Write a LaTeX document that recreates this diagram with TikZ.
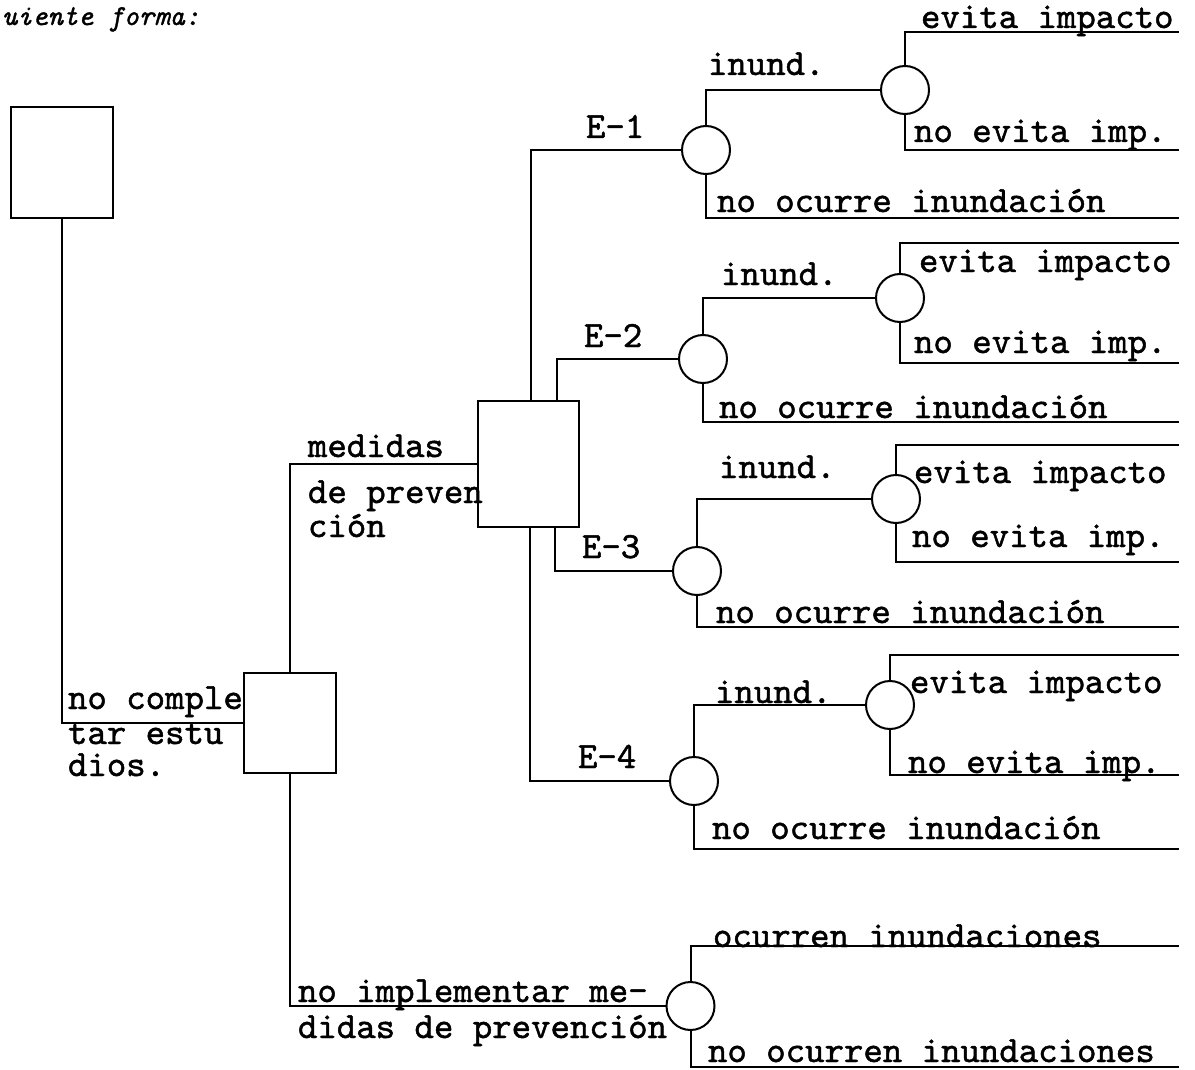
\documentclass[tikz,border=0pt]{standalone}
\usepackage{fontspec}
\newfontfamily\twfont{lmmono10-regular}[Extension=.otf, FakeBold=1.3]
\newfontfamily\twitfont{lmmono10-italic}[Extension=.otf, FakeBold=1.3]
\begin{document}
\begin{tikzpicture}[x=1pt,y=-1pt, line width=2pt,
  box/.style={draw, rectangle, inner sep=0pt, outer sep=0pt},
  chance/.style={draw, circle, minimum size=48pt, inner sep=0pt, outer sep=0pt},
  lbl/.style={anchor=base west, inner sep=0pt, outer sep=0pt, font=\fontsize{37}{40}\selectfont\twfont},
  head/.style={anchor=base west, inner sep=0pt, outer sep=0pt, font=\fontsize{29}{30}\selectfont\twitfont},
]
\useasboundingbox (0,0) rectangle (1195,1070);

\node[head] (hd) at (2,25) {uiente forma:};

% decision boxes
\node[box, minimum width=102pt, minimum height=111pt] (A) at (62,162.5) {};
\node[box, minimum width=92pt, minimum height=100pt] (B) at (290,723) {};
\node[box, minimum width=101pt, minimum height=126pt] (C) at (528.5,464) {};

% chance nodes
\node[chance] (e1) at (706,150) {};
\node[chance] (e1b) at (905,90) {};
\node[chance] (e2) at (703,359) {};
\node[chance] (e2b) at (900,298) {};
\node[chance] (e3) at (697,571) {};
\node[chance] (e3b) at (896,499) {};
\node[chance] (e4) at (694,781) {};
\node[chance] (e4b) at (890,705) {};
\node[chance] (e5) at (690.5,1006) {};

% free ends of the outcome lines
\coordinate (e1t) at (1179,32);
\coordinate (e1m) at (1179,150);
\coordinate (e1n) at (1179,218);
\coordinate (e2t) at (1179,243);
\coordinate (e2m) at (1179,363);
\coordinate (e2n) at (1179,422);
\coordinate (e3t) at (1179,445);
\coordinate (e3m) at (1179,562);
\coordinate (e3n) at (1179,627);
\coordinate (e4t) at (1179,655);
\coordinate (e4m) at (1179,775);
\coordinate (e4n) at (1179,849);
\coordinate (e5t) at (1179,946);
\coordinate (e5n) at (1179,1067);

% branches between decisions
\draw (A.south) |- (B.west);
\draw (B.north) |- (C.west);
\draw (B.south) |- (e5.west);
\draw ([xshift=53pt]C.north west) |- (e1.west);
\draw ([xshift=79pt]C.north west) |- (e2.west);
\draw ([xshift=77pt]C.south west) |- (e3.west);
\draw ([xshift=52pt]C.south west) |- (e4.west);

% outcome branches
\draw (e1.north) |- (e1b.west);
\draw (e1b.north) |- (e1t);
\draw (e1b.south) |- (e1m);
\draw (e1.south) |- (e1n);
\draw (e2.north) |- (e2b.west);
\draw (e2b.north) |- (e2t);
\draw (e2b.south) |- (e2m);
\draw (e2.south) |- (e2n);
\draw (e3.north) |- (e3b.west);
\draw (e3b.north) |- (e3t);
\draw (e3b.south) |- (e3m);
\draw (e3.south) |- (e3n);
\draw (e4.north) |- (e4b.west);
\draw (e4b.north) |- (e4t);
\draw (e4b.south) |- (e4m);
\draw (e4.south) |- (e4n);
\draw (e5.north) |- (e5t);
\draw (e5.south) |- (e5n);

% labels
\node[lbl] (t1) at (68,709) {no comple};
\node[lbl] (t2) at (68,744) {tar estu};
\node[lbl] (t3) at (68,776) {dios.};
\node[lbl] (m1) at (308,457) {medidas};
\node[lbl] (m2) at (308,503) {de preven};
\node[lbl] (m3) at (308,537) {ción};
\node[lbl] (n1) at (298,1002) {no implementar me-};
\node[lbl] (n2) at (298,1038) {didas de prevención};

\node[lbl] (l1) at (586,138) {E-1};
\node[lbl] (l2) at (584,347) {E-2};
\node[lbl] (l3) at (582,558) {E-3};
\node[lbl] (l4) at (578,768) {E-4};

\node[lbl] (a1) at (708,75) {inund.};
\node[lbl] (b1) at (921,28) {evita impacto};
\node[lbl] (c1) at (914,142) {no evita imp.};
\node[lbl] (d1) at (717,212) {no ocurre inundación};

\node[lbl] (a2) at (721,285) {inund.};
\node[lbl] (b2) at (919,272) {evita impacto};
\node[lbl] (c2) at (914,353) {no evita imp.};
\node[lbl] (d2) at (719,418) {no ocurre inundación};

\node[lbl] (a3) at (719,478) {inund.};
\node[lbl] (b3) at (914,483) {evita impacto};
\node[lbl] (c3) at (912,547) {no evita imp.};
\node[lbl] (d3) at (716,623) {no ocurre inundación};

\node[lbl] (a4) at (715,703) {inund.};
\node[lbl] (b4) at (910,693) {evita impacto};
\node[lbl] (c4) at (908,773) {no evita imp.};
\node[lbl] (d4) at (712,839) {no ocurre inundación};

\node[lbl] (o1) at (713,947) {ocurren inundaciones};
\node[lbl] (o2) at (708,1062) {no ocurren inundaciones};
\end{tikzpicture}
\end{document}
